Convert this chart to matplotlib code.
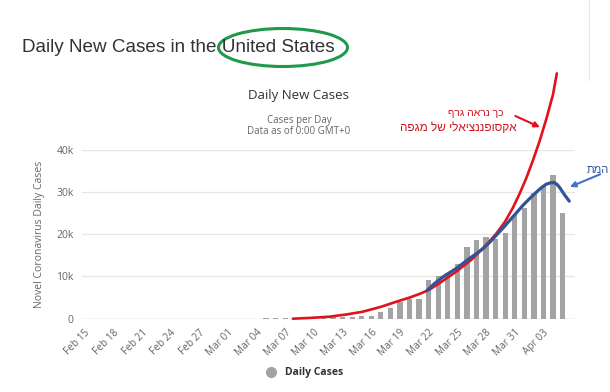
import matplotlib.pyplot as plt
from matplotlib.patches import Ellipse
from matplotlib.lines import Line2D

# daily new cases, Feb 15 .. Apr 05 (values in thousands)
cases = [0, 0, 0, 0, 0, 0, 0, 0, 0, 0, 0, 0, 0, 0, 0,
         0.02, 0.02, 0.03, 0.03, 0.06, 0.05, 0.1, 0.1, 0.1, 0.2, 0.25, 0.3,
         0.33, 0.33, 0.71, 0.71, 1.58, 2.6, 4.0, 4.6, 4.7,
         9.1, 10.2, 10.9, 13.0, 16.9, 18.5, 19.2, 18.9, 20.2,
         24.4, 26.2, 29.6, 31.3, 34.0, 25.1]
tick_pos = list(range(0, 51, 3))
tick_labels = ["Feb 15", "Feb 18", "Feb 21", "Feb 24", "Feb 27", "Mar 01",
               "Mar 04", "Mar 07", "Mar 10", "Mar 13", "Mar 16", "Mar 19",
               "Mar 22", "Mar 25", "Mar 28", "Mar 31", "Apr 03"]
y_ticks = [0, 10, 20, 30, 40]
y_labels = ["0", "10k", "20k", "30k", "40k"]

# hand drawn curves (day index, thousands)
red_x = [21.8, 23.7, 25.6, 27.4, 29.1, 31.0, 32.6, 34.0, 35.1, 36.1, 37.0,
         37.9, 38.8, 39.6, 40.5, 41.3, 42.2, 43.1, 44.0, 44.8, 45.5, 46.2,
         46.9, 47.6, 48.3, 49.0, 49.4]
red_y = [0.0, 0.2, 0.47, 1.0, 1.65, 2.8, 4.0, 5.0, 5.9, 6.9, 8.2,
         9.6, 11.0, 12.4, 14.0, 15.8, 17.9, 20.2, 23.0, 26.2, 29.5, 33.2,
         37.4, 42.0, 47.2, 53.0, 58.0]
blue_x = [35.8, 36.6, 37.5, 38.2, 38.9, 39.6, 40.3, 41.0, 41.7, 42.4, 43.1,
          43.8, 44.5, 45.2, 45.9, 46.6, 47.3, 47.8, 48.3, 48.7, 49.1, 49.4,
          49.7, 50.2, 50.7]
blue_y = [6.6, 8.3, 9.9, 10.9, 11.9, 13.1, 14.3, 15.4, 16.6, 18.1, 19.8,
          21.5, 23.3, 25.1, 26.9, 28.5, 30.0, 31.0, 31.8, 32.1, 32.2, 31.8,
          31.0, 29.3, 27.8]

W, H = 610, 392
fig = plt.figure(figsize=(W / 100, H / 100), dpi=100)
ax = fig.add_axes([82 / W, 1 - 318.7 / H, (575 - 82) / W, (318.7 - 149.5) / H])

ax.bar(range(len(cases)), cases, width=0.55, color="#a3a3a3", zorder=2)
ax.plot(red_x, red_y, color="#e3111b", lw=1.9, clip_on=False, zorder=4,
        solid_capstyle="round", solid_joinstyle="round")
ax.plot(blue_x, blue_y, color="#2f5597", lw=2.3, zorder=5,
        solid_capstyle="round", solid_joinstyle="round")

ax.set_xlim(-0.25, 51.3)
ax.set_ylim(0, 40)
ax.set_yticks(y_ticks)
ax.set_yticklabels(y_labels, fontsize=7.5, color="#666666", family="Open Sans")
ax.set_xticks(tick_pos)
ax.set_xticklabels(tick_labels, rotation=45, ha="right", va="top",
                   rotation_mode="anchor", fontsize=7.2, color="#666666",
                   family="Open Sans")
ax.tick_params(length=0, pad=6)
ax.grid(axis="y", color="#e6e6e6", lw=0.9, zorder=0)
for s in ax.spines.values():
    s.set_visible(False)
ax.axhline(0, color="#ccd6eb", lw=1, zorder=1)
ax.set_ylabel("Novel Coronavirus Daily Cases", fontsize=7.5, color="#666666",
              family="Open Sans", labelpad=8)

# arrows
ax.annotate("", xy=(47.9, 45.0), xytext=(44.8, 48.2),
            arrowprops=dict(arrowstyle="-|>", color="#e3111b", lw=1.5,
                            mutation_scale=8), annotation_clip=False)
ax.annotate("", xy=(50.5, 30.9), xytext=(54.2, 34.4),
            arrowprops=dict(arrowstyle="-|>", color="#4472c4", lw=1.5,
                            mutation_scale=8), annotation_clip=False)

# texts (Hebrew reversed into visual order, matplotlib lays out left to right)
fig.text(22 / W, 1 - 48 / H, "Daily New Cases in the United States",
         fontsize=13.6, color="#333333", family="Liberation Sans", va="center")
fig.add_artist(Ellipse((283 / W, 1 - 47.5 / H), 129 / W, 38 / H,
                       fill=False, ec="#1f9a4a", lw=2.2,
                       transform=fig.transFigure))
fig.text(299 / W, 1 - 96 / H, "Daily New Cases", fontsize=9.5, color="#333333",
         family="Open Sans", ha="center", va="center")
fig.text(299 / W, 1 - 120 / H, "Cases per Day", fontsize=7, color="#666666",
         family="Open Sans", ha="center", va="center")
fig.text(299 / W, 1 - 132 / H, "Data as of 0:00 GMT+0", fontsize=7,
         color="#666666", family="Open Sans", ha="center", va="center")
fig.text(476 / W, 1 - 113 / H, "כך נראה גרף"[::-1], fontsize=7.5,
         color="#d0121b", family="Liberation Sans", ha="center", va="center")
fig.text(458 / W, 1 - 128 / H, "אקסופננציאלי של מגפה"[::-1], fontsize=8.5,
         color="#d0121b", family="Liberation Sans", ha="center", va="center")
fig.text(609 / W, 1 - 170 / H, "המת"[::-1], fontsize=8, color="#2f5597",
         family="Liberation Sans", ha="right", va="center")

# little vertical screen artifact at top right
fig.add_artist(Line2D([589 / W, 589 / W], [1.0, 1 - 80 / H], color="#e8e8e8",
                      lw=0.8, transform=fig.transFigure))

fig.legend(handles=[Line2D([], [], marker="o", ls="", color="#a3a3a3",
                           markersize=7)],
           labels=["Daily Cases"], loc="center",
           bbox_to_anchor=(302 / W, 1 - 373 / H), frameon=False,
           handletextpad=0.3, prop=dict(family="Open Sans", weight="bold",
                                        size=7.5))
for t in fig.legends[0].get_texts():
    t.set_color("#333333")

fig.savefig("out.png", dpi=100)
